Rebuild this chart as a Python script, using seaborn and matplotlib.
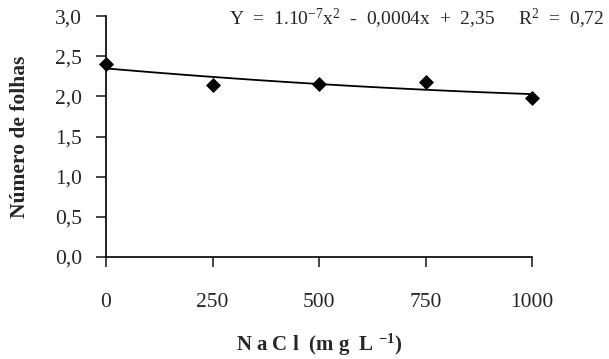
import matplotlib.pyplot as plt
import numpy as np
import pandas as pd
import seaborn as sns

nacl = [0, 250, 500, 750, 1000]
folhas = [2.40, 2.14, 2.16, 2.18, 1.98]
y_ticks = [0.0, 0.5, 1.0, 1.5, 2.0, 2.5, 3.0]
y_tick_labels = ["0,0", "0,5", "1,0", "1,5", "2,0", "2,5", "3,0"]
x_ticks = [0, 250, 500, 750, 1000]
x_tick_labels = ["0", "250", "500", "750", "1000"]
equation = r"Y  =  1.10$^{-7}$x$^{2}$  -  0,0004x  +  2,35     R$^{2}$  =  0,72"

sns.set_style("ticks")
plt.rcParams["font.family"] = ["Liberation Serif", "DejaVu Serif"]
plt.rcParams["mathtext.fontset"] = "custom"
plt.rcParams["mathtext.rm"] = "Liberation Serif"
plt.rcParams["mathtext.it"] = "Liberation Serif:italic"
plt.rcParams["mathtext.bf"] = "Liberation Serif:bold"

df = pd.DataFrame({"nacl": nacl, "folhas": folhas})

fig = plt.figure(figsize=(6.09, 3.59), dpi=100)
ax = fig.add_axes([0.174, 0.284, 0.700, 0.671])

sns.regplot(
    data=df,
    x="nacl",
    y="folhas",
    order=2,
    ci=None,
    scatter=False,
    truncate=True,
    line_kws={"color": "black", "linewidth": 1.3},
    ax=ax,
)
sns.scatterplot(
    data=df,
    x="nacl",
    y="folhas",
    marker="D",
    s=50,
    color="black",
    edgecolor="black",
    zorder=5,
    legend=False,
    ax=ax,
    clip_on=False,
)

ax.set_xlim(0, 1000)
ax.set_ylim(0, 3.0)
ax.set_xticks(x_ticks, x_tick_labels)
ax.set_yticks(y_ticks, y_tick_labels)
ax.tick_params(axis="x", direction="out", length=7, width=1.2, pad=19, labelsize=15.5)
ax.tick_params(axis="y", direction="out", length=7, width=1.2, pad=10, labelsize=15.5)
for side in ["top", "right"]:
    ax.spines[side].set_visible(False)
for side in ["left", "bottom"]:
    ax.spines[side].set_linewidth(1.2)
    ax.spines[side].set_color("black")

ax.set_xlabel(r"N a C l  (m g  L $^{\mathbf{-1}}$)", fontsize=15, fontweight="bold", labelpad=14)
ax.set_ylabel("Número de folhas", fontsize=15.5, fontweight="bold", labelpad=18)

fig.text(0.992, 0.93, equation, ha="right", va="baseline", fontsize=14)

fig.savefig("out.png", dpi=100)
